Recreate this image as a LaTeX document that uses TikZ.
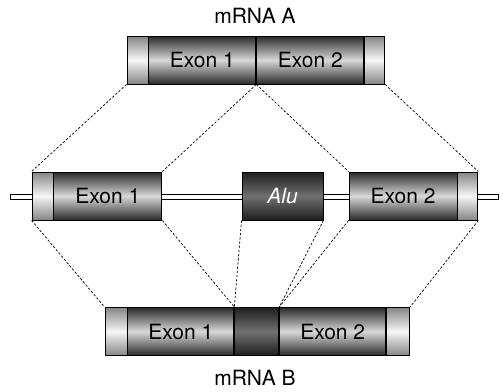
\documentclass[tikz,border=0pt]{standalone}
\usepackage{fontspec}
\setmainfont{TeX Gyre Heros}
\usetikzlibrary{positioning}
\definecolor{exdark}{HTML}{2A2A2A}
\definecolor{exlight}{HTML}{D8D8D8}
\definecolor{utrdark}{HTML}{858585}
\definecolor{utrlight}{HTML}{F6F6F6}
\definecolor{aludark}{HTML}{1E1E1E}
\definecolor{alulight}{HTML}{707070}

\tikzset{
  block/.style={draw, line width=0.9pt, inner sep=0pt, minimum height=48pt,
    font=\fontsize{21}{24}\selectfont},
  exonbox/.style={block, top color=exdark, bottom color=exdark, middle color=exlight},
  utrbox/.style={block, top color=utrdark, bottom color=utrdark, middle color=utrlight},
  alubox/.style={block, top color=aludark, bottom color=aludark, middle color=alulight,
    text=white, font=\fontsize{21}{24}\selectfont\itshape},
  intron/.style={draw, fill=white, line width=0.7pt, inner sep=0pt, minimum height=5pt},
  map/.style={line width=0.7pt, dash pattern=on 2.4pt off 1.8pt},
  label/.style={font=\fontsize{21}{24}\selectfont}
}

\begin{document}
\begin{tikzpicture}[x=1pt, y=-1pt, node distance=0pt]
  \useasboundingbox (0,0) rectangle (503,391);

  % mRNA A
  \node[label] (titleA) at (255,16) {mRNA A};
  \node[utrbox, minimum width=21pt] (aU1) at (137.5,60) {};
  \node[exonbox, minimum width=107pt, right=of aU1] (aE1) {Exon 1};
  \node[exonbox, minimum width=107pt, right=of aE1] (aE2) {Exon 2};
  \node[utrbox, minimum width=20pt, right=of aE2] (aU2) {};

  % gene
  \node[intron, minimum width=488pt] (gLine) at (254,196.5) {};
  \node[utrbox, minimum width=21pt] (gU1) at (42.5,196) {};
  \node[exonbox, minimum width=108pt, right=of gU1] (gE1) {Exon 1};
  \node[alubox, minimum width=81pt] (gAlu) at (282.5,196) {Alu};
  \node[exonbox, minimum width=108pt] (gE2) at (403,196) {Exon 2};
  \node[utrbox, minimum width=20pt, right=of gE2] (gU2) {};

  % mRNA B
  \node[utrbox, minimum width=22pt] (bU1) at (116,331.5) {};
  \node[exonbox, minimum width=106pt, right=of bU1] (bE1) {Exon 1};
  \node[alubox, minimum width=44pt, right=of bE1] (bAlu) {};
  \node[exonbox, minimum width=106pt, right=of bAlu] (bE2) {Exon 2};
  \node[utrbox, minimum width=23pt, right=of bE2] (bU2) {};
  \node[label] (titleB) at (255,378) {mRNA B};

  % mapping lines
  \draw[map] (aU1.south west) -- (gU1.north west);
  \draw[map] (aE1.south east) -- (gE1.north east);
  \draw[map] (aE2.south west) -- (gE2.north west);
  \draw[map] (aU2.south east) -- (gU2.north east);

  \draw[map] (gU1.south west) -- (bU1.north west);
  \draw[map] (gE1.south east) -- (bE1.north east);
  \draw[map] (gAlu.south west) -- (bAlu.north west);
  \draw[map] (gAlu.south east) -- (bAlu.north east);
  \draw[map] (gE2.south west) -- (bE2.north west);
  \draw[map] (gU2.south east) -- (bU2.north east);
\end{tikzpicture}
\end{document}
